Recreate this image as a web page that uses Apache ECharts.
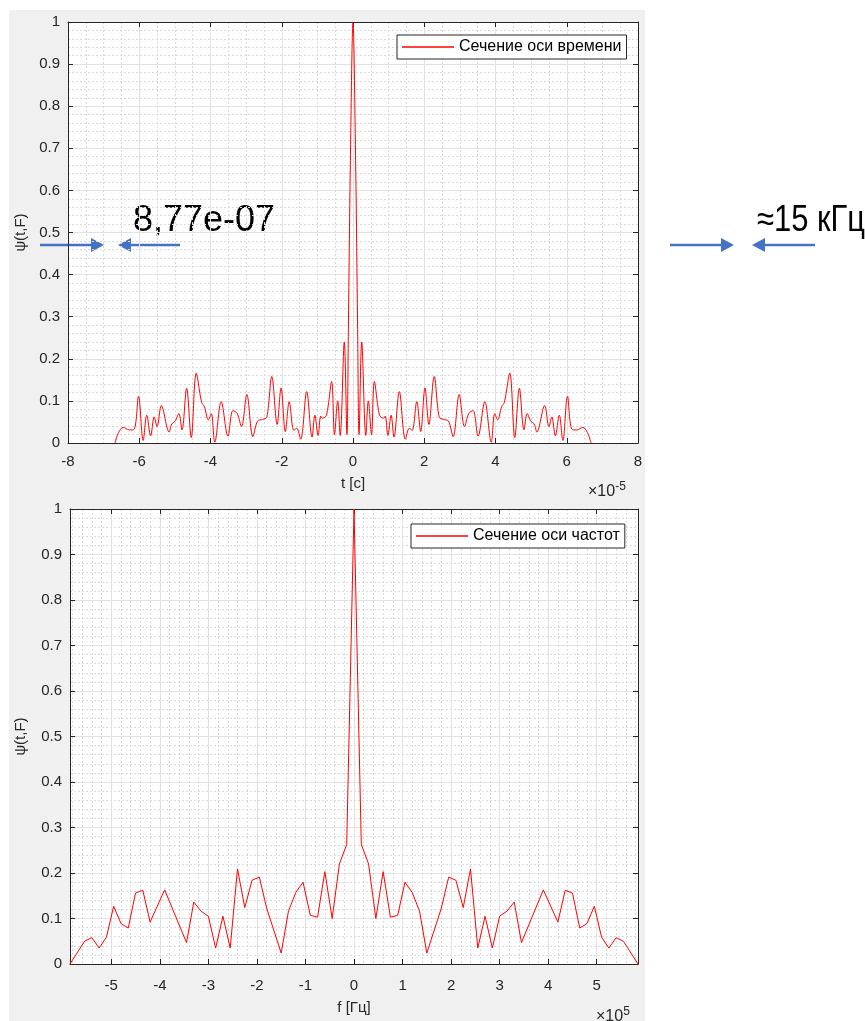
<!DOCTYPE html>
<html><head><meta charset="utf-8">
<script src="https://cdn.jsdelivr.net/npm/echarts@6/dist/echarts.min.js"></script>
<style>
html,body{margin:0;padding:0;background:#fff;}
#bg{position:absolute;left:9px;top:10px;width:636px;height:1011px;background:#f0f0f0;}
#chart{position:absolute;left:0;top:0;width:865px;height:1021px;}
</style></head><body>
<div id="bg"></div><div id="chart"></div>
<script>
// ---- Time section (t in units of 1e-5 s) ----
const tTime = [
 -6.68,-6.58,-6.45,-6.28,-6.14,-6.02,-5.89,-5.79,-5.68,-5.58,-5.50,-5.38,-5.16,-5.09,-4.99,-4.89,-4.80,-4.67,-4.54,-4.40,
 -4.25,-4.17,-4.06,-3.98,-3.88,-3.70,-3.51,-3.37,-3.25,-3.13,-2.98,-2.81,-2.68,-2.54,-2.42,-2.28,-2.13,-2.02,-1.90,-1.79,
 -1.66,-1.58,-1.47,-1.30,-1.15,-1.07,-0.98,-0.905,-0.86,-0.745,-0.60,-0.52,-0.43,-0.36,-0.245,-0.17,-0.13,-0.075,
 0,
 0.075,0.13,0.17,0.245,0.36,0.43,0.52,0.60,0.745,0.86,0.905,0.98,1.07,1.15,1.30,1.47,1.58,1.66,
 1.79,1.90,2.02,2.13,2.28,2.42,2.54,2.68,2.81,2.98,3.13,3.25,3.37,3.51,3.70,3.88,3.98,4.06,4.17,4.25,
 4.40,4.54,4.67,4.80,4.89,4.99,5.09,5.16,5.38,5.50,5.58,5.68,5.79,5.89,6.02,6.14,6.28,6.45,6.58,6.68
];
const psiTime = [
 0,0.025,0.037,0.031,0.033,0.111,0.006,0.066,0.017,0.062,0.039,0.089,0.026,0.045,0.052,0.070,0.031,0.130,0.013,0.166,
 0.097,0.086,0.055,0.070,0.002,0.098,0.016,0.077,0.070,0.039,0.115,0.015,0.052,0.056,0.061,0.158,0.044,0.131,0.027,0.098,
 0.030,0.035,0.009,0.122,0.014,0.066,0.018,0.064,0.059,0.066,0.146,0.020,0.100,0.018,0.240,0.020,0.270,0.660,
 1.0,
 0.660,0.270,0.020,0.240,0.018,0.100,0.020,0.146,0.066,0.059,0.064,0.018,0.066,0.014,0.122,0.009,0.035,0.030,
 0.098,0.027,0.131,0.044,0.158,0.061,0.056,0.052,0.015,0.115,0.039,0.070,0.077,0.016,0.098,0.002,0.070,0.055,0.086,0.097,
 0.166,0.013,0.130,0.031,0.070,0.052,0.045,0.026,0.089,0.039,0.062,0.017,0.066,0.006,0.111,0.033,0.031,0.037,0.025,0
];
// ---- Frequency section (f in units of 1e5 Hz) ----
const fFreq = [
 -5.85,-5.55,-5.40,-5.25,-5.10,-4.95,-4.80,-4.65,-4.50,-4.35,-4.20,-3.90,-3.45,-3.30,-3.15,-3.00,-2.85,-2.70,-2.55,-2.40,
 -2.25,-2.10,-1.95,-1.80,-1.50,-1.35,-1.20,-1.05,-0.90,-0.75,-0.60,-0.45,-0.30,-0.15,
 0,
 0.15,0.30,0.45,0.60,0.75,0.90,1.05,1.20,1.35,1.50,1.80,1.95,2.10,2.25,
 2.40,2.55,2.70,2.85,3.00,3.15,3.30,3.45,3.90,4.20,4.35,4.50,4.65,4.80,4.95,5.10,5.25,5.40,5.55,5.85
];
const psiFreq = [
 0,0.050,0.058,0.035,0.059,0.127,0.089,0.079,0.156,0.162,0.092,0.163,0.047,0.136,0.116,0.105,0.035,0.105,0.035,0.209,
 0.124,0.184,0.191,0.123,0.024,0.116,0.157,0.180,0.107,0.103,0.203,0.100,0.220,0.263,
 1.0,
 0.263,0.220,0.100,0.203,0.103,0.107,0.180,0.157,0.116,0.024,0.123,0.191,0.184,0.124,
 0.209,0.035,0.105,0.035,0.105,0.116,0.136,0.047,0.163,0.092,0.162,0.156,0.079,0.089,0.127,0.059,0.035,0.058,0.050,0
];
const timeTicks = [-8,-6,-4,-2,0,2,4,6,8];
const freqTicks = [-5,-4,-3,-2,-1,0,1,2,3,4,5];
const freqRange = [-5.85, 5.85];
const psiTicks = [0,0.1,0.2,0.3,0.4,0.5,0.6,0.7,0.8,0.9,1];
const seriesNames = ['Сечение оси времени','Сечение оси частот'];

const AX = '#262626';
const FONT = "'Liberation Sans', Arial, sans-serif";
const majorGrid = {show:true, lineStyle:{color:'#e2e2e2', width:1}};
const minorGrid = {show:true, lineStyle:{color:'#dadada', width:1, type:[2,2]}};
const tickIn = {show:true, inside:true, length:5, lineStyle:{color:AX}};
const line = {show:true, onZero:false, lineStyle:{color:AX, width:1}};

function xMain(grid, cfg, name, minorN, gap){
  return Object.assign({type:'value', gridIndex:grid, position:'bottom',
    axisLine:line, axisTick:tickIn,
    axisLabel:{color:AX, fontSize:15, fontFamily:FONT, margin:11},
    splitLine:majorGrid, minorTick:{show:false, splitNumber:minorN}, minorSplitLine:minorGrid,
    name:name, nameLocation:'middle', nameGap:gap,
    nameTextStyle:{color:AX, fontSize:15, fontFamily:FONT}}, cfg);
}
function xTop(grid, cfg){
  return Object.assign({type:'value', gridIndex:grid, position:'top',
    axisLine:line, axisTick:tickIn, axisLabel:{show:false}, splitLine:{show:false}}, cfg);
}
function yMain(grid, gap){
  return {type:'value', gridIndex:grid, position:'left', min:psiTicks[0], max:psiTicks[psiTicks.length-1], interval:psiTicks[1]-psiTicks[0],
    axisLine:line, axisTick:tickIn,
    axisLabel:{color:AX, fontSize:15, fontFamily:FONT, margin:8},
    splitLine:majorGrid, minorTick:{show:false, splitNumber:5}, minorSplitLine:minorGrid,
    name:'ψ(t,F)', nameLocation:'middle', nameGap:gap, nameRotate:90,
    nameTextStyle:{color:AX, fontSize:15, fontFamily:FONT}};
}
function yRight(grid){
  return {type:'value', gridIndex:grid, position:'right', min:psiTicks[0], max:psiTicks[psiTicks.length-1], interval:psiTicks[1]-psiTicks[0],
    axisLine:line, axisTick:tickIn, axisLabel:{show:false}, splitLine:{show:false}};
}
const timeCfg = {min:timeTicks[0], max:timeTicks[timeTicks.length-1], interval:timeTicks[1]-timeTicks[0]};
const freqCfg = {min:freqRange[0], max:freqRange[1], splitNumber:12,
  axisLabel:{color:AX, fontSize:15, fontFamily:FONT, margin:14, showMinLabel:false, showMaxLabel:false}};

function arrow(x1, x2, y){
  const dir = x2 > x1 ? 1 : -1;
  const hx = x2 - dir*13;
  return [
    {type:'line', shape:{x1:x1, y1:y, x2:hx, y2:y}, style:{stroke:'#4472C4', lineWidth:2.5}},
    {type:'polygon', shape:{points:[[x2,y],[hx,y-7],[hx,y+7]]}, style:{fill:'#4472C4'}}
  ];
}

const legendBase = {orient:'horizontal', icon:'rect', itemWidth:52, itemHeight:1.5, itemGap:0,
  padding:[4,5,4,5], borderColor:AX, borderWidth:1, backgroundColor:'#fff', borderRadius:0,
  textStyle:{color:'#000', fontSize:16, fontFamily:FONT}};

const option = {
  animation:false,
  backgroundColor:'transparent',
  grid:[
    {left:68, top:22, width:570, height:421, show:true, backgroundColor:'#fff', borderWidth:0},
    {left:70, top:509, width:568, height:455, show:true, backgroundColor:'#fff', borderWidth:0}
  ],
  xAxis:[
    xMain(0, timeCfg, 't [c]', 4, 33),
    xTop(0, timeCfg),
    xMain(1, freqCfg, 'f [Гц]', 5, 36),
    xTop(1, {min:freqRange[0], max:freqRange[1], splitNumber:12})
  ],
  yAxis:[ yMain(0, 40), yRight(0), yMain(1, 42), yRight(1) ],
  legend:[
    Object.assign({}, legendBase, {left:397, top:35, data:[seriesNames[0]]}),
    Object.assign({}, legendBase, {left:411, top:524, data:[seriesNames[1]]})
  ],
  series:[
    {type:'line', name:seriesNames[0], xAxisIndex:0, yAxisIndex:0, showSymbol:false, symbol:'none', smooth:0.35,
     lineStyle:{color:'#ff0000', width:1}, itemStyle:{color:'#ff0000'},
     data:tTime.map((t,i)=>[t, psiTime[i]])},
    {type:'line', name:seriesNames[1], xAxisIndex:2, yAxisIndex:2, showSymbol:false, symbol:'none',
     lineStyle:{color:'#ff0000', width:1}, itemStyle:{color:'#ff0000'},
     data:fFreq.map((f,i)=>[f, psiFreq[i]])}
  ],
  graphic:[
    {type:'text', left:588, top:481, style:{text:'×10{s|-5}', rich:{s:{fontSize:12, fontFamily:FONT, color:AX, padding:[0,0,10,0]}}, fontSize:16, fontFamily:FONT, fill:AX}},
    {type:'text', left:596, top:1006, style:{text:'×10{s|5}', rich:{s:{fontSize:12, fontFamily:FONT, color:AX, padding:[0,0,10,0]}}, fontSize:16, fontFamily:FONT, fill:AX}},
    {type:'text', x:133, y:221, style:{text:'8,77e-07', font:"36px 'Liberation Sans', sans-serif", fill:'#000', textVerticalAlign:'middle'}},
    {type:'text', x:757, y:221, scaleX:0.86, style:{text:'≈15 кГц', font:"36px 'Liberation Sans', sans-serif", fill:'#000', textVerticalAlign:'middle'}},
    ...arrow(40,104,245), ...arrow(180,118,245), ...arrow(670,734,245), ...arrow(815,752,245)
  ]
};
const chart = echarts.init(document.getElementById('chart'), null, {renderer:'canvas'});
chart.setOption(option);
</script></body></html>
